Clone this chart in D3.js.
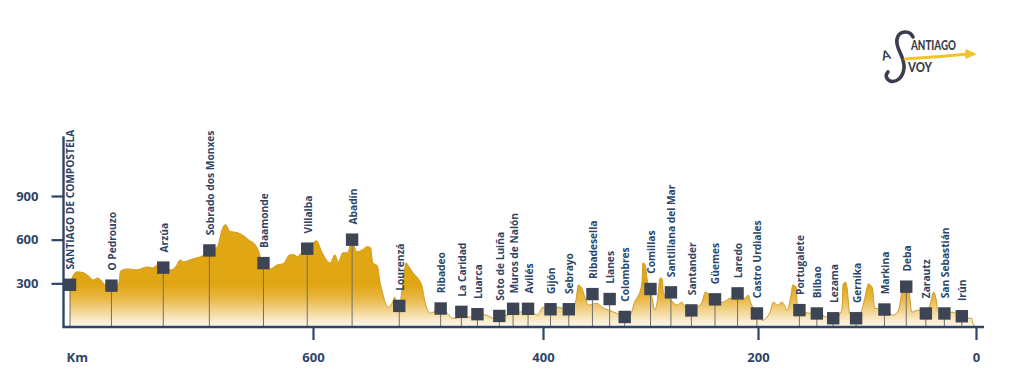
<!DOCTYPE html>
<html><head><meta charset="utf-8">
<script src="https://cdn.jsdelivr.net/npm/d3@7"></script>
<style>
html,body{margin:0;padding:0;background:#fff;}
svg{display:block;}
</style></head>
<body>
<svg id="chart" width="1024" height="379"></svg>
<script>
// ---- data ----
const stopNames = ["SANTIAGO DE COMPOSTELA","O Pedrouzo","Arzúa","Sobrado dos Monxes","Baamonde","Villalba","Abadín","Lourenzá","Ribadeo","La Caridad","Luarca","Soto de Luiña","Muros de Nalón","Avilés","Gijón","Sebrayo","Ribadesella","Llanes","Colombres","Comillas","Santillana del Mar","Santander","Güemes","Laredo","Castro Urdiales","Portugalete","Bilbao","Lezama","Gernika","Markina","Deba","Zarautz","San Sebastián","Irún"];
const stopKm = [811,775,730,690,643,605,566,525,489,471,457,438,426,413,393,376,354,338,324,300,281,262,240,219,201,162,146,131,110,84,64,46,29,13];
const stopElev = [290,284,408,526,439,538,600,145,127,104,88,76,125,125,122,122,226,192,69,261,238,114,190,231,93,116,93,60,60,120,277,93,93,74];

const profileKm = [811,808,805,799,794,791,787,782,779,775,769,767,761,753,744,739,735,730,724,720,715,713,704,696,690,683,679,676,672,666,662,656,649,647,645,643,637,631,626,620,616,614,609,605,600,597,592,585,581,578,574,570,566,562,557,553,550,548,544,542,539,535,530,529,527,525,522,519,517,513,509,505,503,498,494,489,483,479,475,471,465,457,449,443,438,431,426,420,413,405,400,393,387,376,370,367,364,361,358,350,345,339,334,328,325,319,314,312,308,307,305,303,300,296,294,291,289,288,281,275,271,268,262,257,252,249,247,240,233,229,226,219,212,209,207,201,196,189,186,182,178,173,170,168,165,164,162,152,146,137,130,123,122,120,118,116,110,104,100,99,95,93,84,76,71,68,64,62,59,53,46,41,39,37,35,29,22,13,7,4,3,0];
const profileElev = [289,358,379,372,344,323,337,303,282,282,289,386,399,393,413,406,427,406,393,406,462,448,469,489,524,552,669,704,656,649,635,600,552,517,462,441,399,427,434,496,496,483,517,538,579,593,510,441,496,448,510,510,600,517,531,552,545,441,420,323,219,136,185,206,164,143,289,441,420,372,337,275,185,95,109,129,95,60,60,102,67,88,81,60,74,81,123,102,123,81,136,123,136,123,164,289,268,206,150,164,136,116,102,81,67,81,185,206,303,441,427,323,261,116,164,337,330,233,185,150,171,136,116,136,171,240,233,185,171,185,199,185,199,219,171,95,46,102,171,150,171,116,206,289,275,150,116,95,95,67,60,116,289,309,254,95,60,136,268,296,268,129,123,81,116,233,275,275,102,116,95,185,240,206,116,95,102,74,60,60,26,0];

const xTickValues = [0,200,400,600];
const xTickLabels = ["0","200","400","600"];
const yTickValues = [300,600,900];
const yTickLabels = ["300","600","900"];
const axisTitle = "Km";
const logoWords = ["A","ANTIAGO","VOY"];

// ---- scales ----
const navy = "#2e4567";
const svg = d3.select("#chart");
const x = d3.scaleLinear().domain([0,200,400,600,811]).range([976,758,543,313,70]);
const y = d3.scaleLinear().domain([0,900]).range([327,196]);
const baseY = y(0);
const labelFont = "'Open Sans', Lato, sans-serif";

// gradient
const defs = svg.append("defs");
const grad = defs.append("linearGradient").attr("id","gold")
  .attr("gradientUnits","userSpaceOnUse").attr("x1",0).attr("x2",0)
  .attr("y1",y(290)).attr("y2",baseY);
grad.append("stop").attr("offset","0").attr("stop-color","#e1a614");
grad.append("stop").attr("offset","0.35").attr("stop-color","#eab94a");
grad.append("stop").attr("offset","0.75").attr("stop-color","#f6e2b4");
grad.append("stop").attr("offset","1").attr("stop-color","#fffaf2");

const profile = profileKm.map((k,i)=>({km:k, e:profileElev[i]}));
const area = d3.area().x(d=>x(d.km)).y0(baseY).y1(d=>y(d.e)).curve(d3.curveMonotoneX);
const line = d3.line().x(d=>x(d.km)).y(d=>y(d.e)).curve(d3.curveMonotoneX);

svg.append("path").datum(profile).attr("d",area).attr("fill","url(#gold)");
svg.append("path").datum(profile).attr("d",line).attr("fill","none")
  .attr("stroke","#cf9d27").attr("stroke-width",1);

// stops
const stops = stopNames.map((n,i)=>({name:n, km:stopKm[i], e:stopElev[i]}));
const sq = 12.4;
const gS = svg.append("g");
gS.selectAll("line").data(stops).join("line")
  .attr("x1",d=>x(d.km)).attr("x2",d=>x(d.km))
  .attr("y1",d=>y(d.e)).attr("y2",baseY)
  .attr("stroke","#6f6f6f").attr("stroke-width",1);
gS.selectAll("rect").data(stops).join("rect")
  .attr("x",d=>x(d.km)-sq/2).attr("y",d=>y(d.e)-sq/2)
  .attr("width",sq).attr("height",sq).attr("fill","#3d4554");
gS.selectAll("text").data(stops).join("text")
  .attr("transform",d=>`translate(${x(d.km)+0.8},${y(d.e)-sq/2-9}) rotate(-90)`)
  .attr("dy","0.36em")
  .attr("font-family",labelFont).attr("font-weight",700)
  .attr("font-size",10.2).attr("fill",navy)
  .text(d=>d.name);

// axes
const axX = svg.append("g").attr("transform",`translate(0,${baseY})`)
  .call(d3.axisBottom(x).tickValues(xTickValues).tickFormat((d,i)=>xTickLabels[i]).tickSize(13).tickPadding(13));
axX.select(".domain").remove();
axX.selectAll(".tick line").attr("stroke",navy).attr("stroke-width",2.2);
axX.selectAll(".tick text").attr("fill",navy).attr("font-family",labelFont)
  .attr("font-weight",700).attr("font-size",13);
svg.append("line").attr("x1",x(811)-6.5).attr("x2",x(0)+8).attr("y1",baseY).attr("y2",baseY)
  .attr("stroke",navy).attr("stroke-width",2.4);

const axY = svg.append("g").attr("transform",`translate(${x(811)-6.5},0)`)
  .call(d3.axisLeft(y).tickValues(yTickValues).tickFormat((d,i)=>yTickLabels[i]).tickSize(12).tickPadding(13));
axY.select(".domain").remove();
axY.selectAll(".tick line").attr("stroke",navy).attr("stroke-width",2.2);
axY.selectAll(".tick text").attr("fill",navy).attr("font-family",labelFont)
  .attr("font-weight",700).attr("font-size",13);
svg.append("line").attr("x1",x(811)-6.5).attr("x2",x(811)-6.5).attr("y1",y(1310)).attr("y2",baseY+1.2)
  .attr("stroke",navy).attr("stroke-width",2.4);

svg.append("text").attr("x",x(811)-3.5).attr("y",baseY+34.5).attr("fill",navy)
  .attr("font-family",labelFont).attr("font-weight",700).attr("font-size",13)
  .text(axisTitle);

// logo
const logo = svg.append("g");
const dark = "#3a3f4b";
const yellow = "#f2c42a";
logo.append("text").attr("x",881).attr("y",60).attr("font-family","Lato, sans-serif")
  .attr("font-weight",700).attr("font-size",13).attr("fill",dark)
  .attr("transform","rotate(-15,885,54)").text(logoWords[0]);
logo.append("path")
  .attr("d","M913,37 C910,30 899,30 897,39 C895,49 905,56 904,68 C903,78 896,83 890,81 C886,79 885,75 888,72")
  .attr("fill","none").attr("stroke",dark).attr("stroke-width",3.6).attr("stroke-linecap","round");
logo.append("path").attr("d","M905,59 Q938,57 968,54").attr("fill","none")
  .attr("stroke",yellow).attr("stroke-width",3).attr("stroke-linecap","round");
logo.append("path").attr("d","M966,50 L975,54 L966,58 Z").attr("fill",yellow)
  .attr("stroke",yellow).attr("stroke-width",1.5).attr("stroke-linejoin","round");
logo.append("text").attr("x",911).attr("y",50).attr("font-family","Lato, sans-serif")
  .attr("font-weight",900).attr("font-size",12.5).attr("fill",dark)
  .attr("textLength",45).attr("lengthAdjust","spacingAndGlyphs").text(logoWords[1]);
logo.append("text").attr("x",908).attr("y",72).attr("font-family","Lato, sans-serif")
  .attr("font-weight",900).attr("font-size",12.5).attr("fill",dark)
  .attr("textLength",24).attr("lengthAdjust","spacingAndGlyphs").text(logoWords[2]);
</script>
</body></html>
